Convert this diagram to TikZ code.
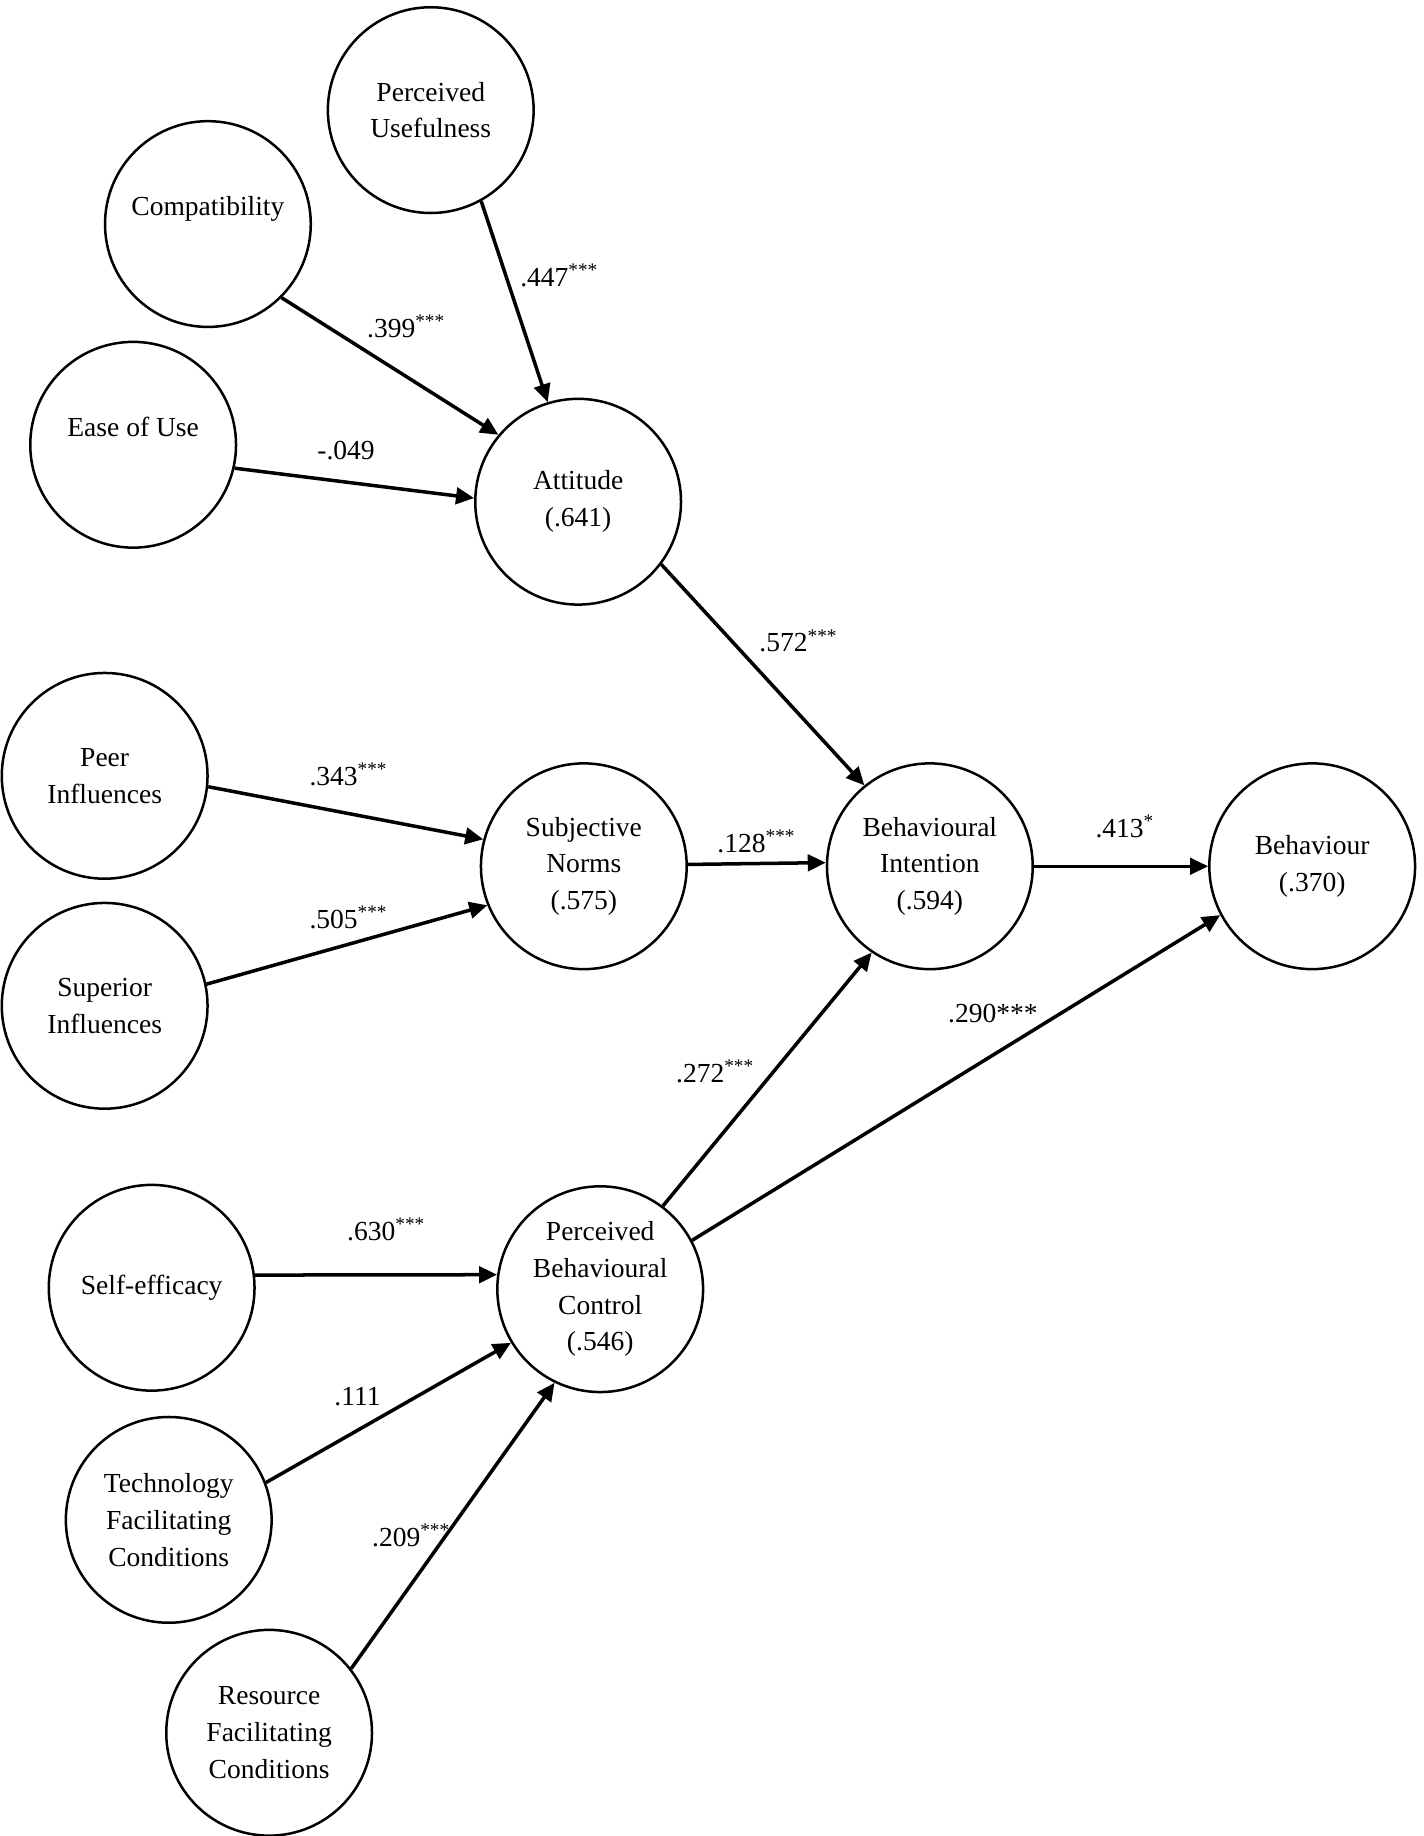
\documentclass[tikz,border=0pt]{standalone}
\usepackage{fontspec}
\setmainfont{Liberation Serif}
\usetikzlibrary{arrows.meta}
\tikzset{
  arr/.style={-{Triangle[length=7.2pt,width=6.6pt]}, line width=1.4pt, draw=black},
  construct/.style={
    draw=black, circle, line width=1pt, minimum size=2.89cm, inner sep=0pt,
    align=center, font=\fontsize{11pt}{14.7pt}\selectfont
  },
  coef/.style={anchor=base west, inner sep=0pt, font=\fontsize{11pt}{13pt}\selectfont},
}
\newcommand{\sig}[1]{\textsuperscript{#1}}

\begin{document}
\begin{tikzpicture}[x=1cm,y=1cm]
\useasboundingbox (0,0) rectangle (20,25.787);

% ---- Attitude block ----
\node[construct] (pu) at (6.05,24.24) {Perceived\\Usefulness};
\node[construct] (comp) at (2.92,22.64) {Compatibility\\~};
\node[construct] (ease) at (1.87,19.54) {Ease of Use\\~};
\node[construct] (att) at (8.12,18.74) {Attitude\\(.641)};

% ---- Norms block ----
\node[construct] (peer) at (1.47,14.89) {Peer\\Influences};
\node[construct] (sup) at (1.47,11.66) {Superior\\Influences};
\node[construct] (sn) at (8.20,13.62) {Subjective\\Norms\\(.575)};

% ---- Intention and behaviour ----
\node[construct] (bi) at (13.06,13.62) {Behavioural\\Intention\\(.594)};
\node[construct] (beh) at (18.43,13.62) {Behaviour\\(.370)};

% ---- Control block ----
\node[construct] (se) at (2.13,7.70) {Self-efficacy};
\node[construct] (pbc) at (8.43,7.68) {Perceived\\Behavioural\\Control\\(.546)};
\node[construct] (tfc) at (2.37,4.44) {Technology\\Facilitating\\Conditions};
\node[construct] (rfc) at (3.78,1.45) {Resource\\Facilitating\\Conditions};

% ---- Paths ----
\draw[arr] (pu.-61) -- (att.107);
\draw[arr] (comp.-45) -- (att.140);
\draw[arr] (ease.-13) -- (att.178);
\draw[arr] (att.-37) -- (bi.129);
\draw[arr] (peer.-6) -- (sn.165);
\draw[arr] (sup.12) -- (sn.202);
\draw[arr] (sn.1.5) -- (bi.178.5);
\draw[arr] (bi.east) -- (beh.west);
\draw[arr] (pbc.53) -- (bi.236);
\draw[arr] (pbc.28) -- (beh.208);
\draw[arr] (se.7.7) -- (pbc.172.3);
\draw[arr] (tfc.21) -- (pbc.211);
\draw[arr] (rfc.38) -- (pbc.244);

% ---- Coefficients ----
\node[coef] (c447) at (7.30,21.76) {.447\sig{***}};
\node[coef] (c399) at (5.15,21.05) {.399\sig{***}};
\node[coef] (c049) at (4.45,19.34) {-.049};
\node[coef] (c572) at (10.66,16.63) {.572\sig{***}};
\node[coef] (c343) at (4.34,14.76) {.343\sig{***}};
\node[coef] (c505) at (4.34,12.74) {.505\sig{***}};
\node[coef] (c128) at (10.07,13.81) {.128\sig{***}};
\node[coef] (c413) at (15.38,14.02) {.413\sig{*}};
\node[coef] (c290) at (13.31,11.43) {.290***};
\node[coef] (c272) at (9.49,10.58) {.272\sig{***}};
\node[coef] (c630) at (4.87,8.36) {.630\sig{***}};
\node[coef] (c111) at (4.69,6.05) {.111};
\node[coef] (c209) at (5.22,4.07) {.209\sig{***}};

\end{tikzpicture}
\end{document}
